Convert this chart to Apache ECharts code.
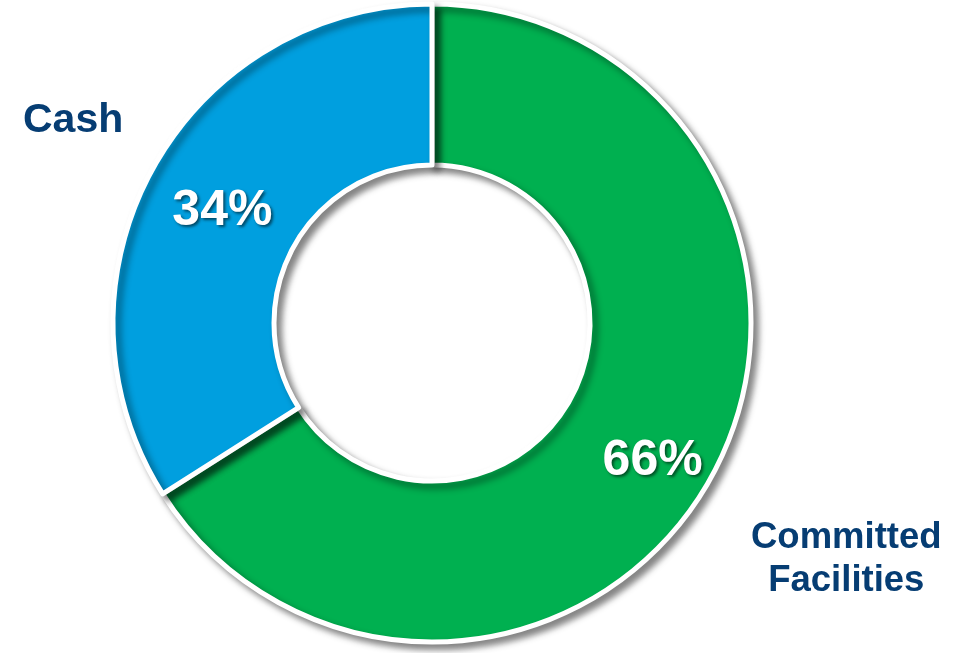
<!DOCTYPE html>
<html>
<head>
<meta charset="utf-8">
<script src="https://cdn.jsdelivr.net/npm/echarts@6/dist/echarts.min.js"></script>
<style>html,body{margin:0;padding:0;background:#fff}#c{width:969px;height:653px}</style>
</head>
<body>
<div id="c"></div>
<script>
const categories = ['Committed Facilities', 'Cash'];
const values = [66, 34];
const colors = ['#00B050', '#009FDF'];
const nameLabels = ['Committed\nFacilities', 'Cash'];

const chart = echarts.init(document.getElementById('c'), null, {renderer: 'canvas'});
const labelOffsets = [[9, 22], [2, 5]];
chart.setOption({
  animation: false,
  series: [{
    type: 'pie',
    center: [432, 323],
    radius: [158, 319],
    startAngle: 90,
    clockwise: true,
    avoidLabelOverlap: false,
    itemStyle: {
      borderColor: '#fff',
      borderWidth: 5,
      shadowBlur: 7,
      shadowColor: 'rgba(0,0,0,0.45)',
      shadowOffsetX: 5,
      shadowOffsetY: 5
    },
    label: {
      show: true,
      position: 'inside',
      formatter: '{d}%',
      color: '#fff',
      fontFamily: 'Liberation Sans, Arial, sans-serif',
      fontWeight: 'bold',
      fontSize: 50,
      textShadowColor: 'rgba(0,0,0,0.55)',
      textShadowBlur: 3,
      textShadowOffsetX: 2,
      textShadowOffsetY: 2
    },
    labelLine: {show: false},
    emphasis: {disabled: true},
    data: categories.map((c, i) => ({
      name: c,
      value: values[i],
      itemStyle: {color: colors[i]},
      label: {offset: labelOffsets[i]}
    }))
  }],
  graphic: [
    {type: 'text', left: 23, top: 100, style: {text: nameLabels[1], fill: '#063D73', font: 'bold 41px "Liberation Sans", Arial, sans-serif'}},
    {type: 'text', left: 751, top: 516, style: {text: nameLabels[0], fill: '#063D73', font: 'bold 36.5px "Liberation Sans", Arial, sans-serif', textAlign: 'center', lineHeight: 43, x: 95, align: 'center'}}
  ]
});
</script>
</body>
</html>
